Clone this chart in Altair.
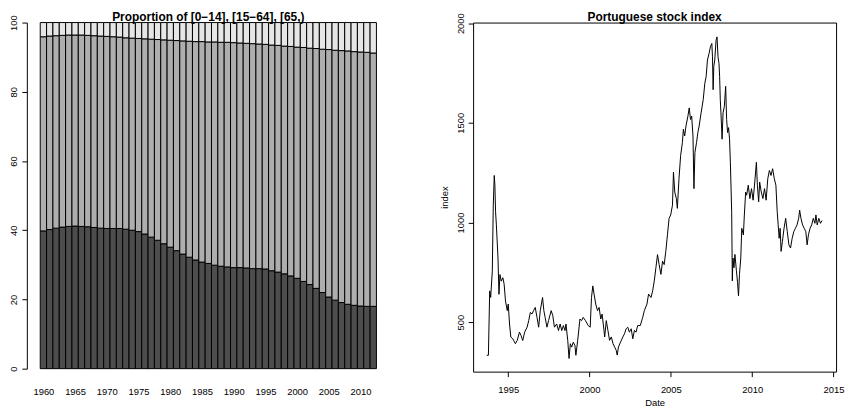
import altair as alt
import pandas as pd

# ---------------- data: left panel (shares in %) ----------------
years = list(range(1960, 2013))
share_0_14 = [39.8, 40.2, 40.6, 40.9, 41.1, 41.2, 41.1, 41.0, 40.8, 40.6,
              40.5, 40.5, 40.5, 40.3, 40.0, 39.6, 38.9, 38.0, 37.1, 36.1,
              35.1, 34.1, 33.1, 32.2, 31.4, 30.8, 30.4, 29.9, 29.6, 29.4,
              29.2, 29.2, 29.1, 28.9, 28.9, 28.8, 28.3, 27.9, 27.4, 26.8,
              26.1, 25.2, 24.3, 23.2, 22.0, 20.7, 19.8, 19.1, 18.6, 18.3,
              18.1, 18.0, 18.0]
share_65 = [4.1, 3.9, 3.8, 3.7, 3.6, 3.6, 3.6, 3.7, 3.8, 3.9,
            4.0, 4.1, 4.2, 4.4, 4.5, 4.6, 4.7, 4.8, 4.9, 5.0,
            5.1, 5.2, 5.3, 5.4, 5.5, 5.5, 5.6, 5.6, 5.7, 5.7,
            5.8, 5.9, 6.0, 6.1, 6.2, 6.3, 6.5, 6.6, 6.8, 6.9,
            7.1, 7.2, 7.4, 7.5, 7.7, 7.8, 8.0, 8.1, 8.2, 8.4,
            8.5, 8.6, 8.8]
groups = ["[0-14]", "[15-64]", "[65,)"]
group_colors = ["#4D4D4D", "#AEAEAE", "#E6E6E6"]
year_labels = [1960, 1965, 1970, 1975, 1980, 1985, 1990, 1995, 2000, 2005, 2010]
share_ticks = [0, 20, 40, 60, 80, 100]

# ---------------- data: right panel (index, decimal years) ----------------
stock_t = [1993.68, 1993.78, 1993.86, 1993.92, 1994.02, 1994.08, 1994.14, 1994.18, 1994.22, 1994.27,
           1994.37, 1994.43, 1994.49, 1994.57, 1994.67, 1994.75, 1994.83, 1994.94, 1995.00, 1995.08,
           1995.16, 1995.28, 1995.44, 1995.55, 1995.69, 1995.79, 1995.89, 1996.01, 1996.16, 1996.26,
           1996.36, 1996.46, 1996.56, 1996.66, 1996.77, 1996.87, 1996.97, 1997.11, 1997.19, 1997.27,
           1997.38, 1997.48, 1997.64, 1997.74, 1997.84, 1997.98, 1998.09, 1998.19, 1998.29, 1998.39,
           1998.49, 1998.55, 1998.66, 1998.74, 1998.82, 1998.90, 1999.00, 1999.10, 1999.16, 1999.27,
           1999.41, 1999.51, 1999.61, 1999.75, 1999.92, 2000.04, 2000.12, 2000.20, 2000.28, 2000.38,
           2000.49, 2000.59, 2000.69, 2000.77, 2000.89, 2000.93, 2001.03, 2001.13, 2001.23, 2001.34,
           2001.44, 2001.54, 2001.64, 2001.70, 2001.78, 2001.91, 2002.05, 2002.15, 2002.25, 2002.35,
           2002.45, 2002.56, 2002.66, 2002.76, 2002.86, 2002.96, 2003.12, 2003.27, 2003.37, 2003.53,
           2003.63, 2003.78, 2003.88, 2003.98, 2004.08, 2004.18, 2004.28, 2004.39, 2004.49, 2004.59,
           2004.69, 2004.79, 2004.89, 2004.99, 2005.10, 2005.16, 2005.24, 2005.34, 2005.40, 2005.50,
           2005.60, 2005.71, 2005.77, 2005.85, 2005.93, 2006.05, 2006.13, 2006.21, 2006.28, 2006.36,
           2006.42, 2006.48, 2006.58, 2006.66, 2006.74, 2006.86, 2006.99, 2007.09, 2007.17, 2007.25,
           2007.35, 2007.43, 2007.52, 2007.56, 2007.60, 2007.64, 2007.70, 2007.78, 2007.84, 2007.90,
           2007.96, 2008.00, 2008.04, 2008.08, 2008.15, 2008.21, 2008.29, 2008.37, 2008.43, 2008.49,
           2008.55, 2008.61, 2008.66, 2008.74, 2008.78, 2008.82, 2008.88, 2008.94, 2009.03, 2009.10,
           2009.16, 2009.22, 2009.30, 2009.36, 2009.46, 2009.52, 2009.60, 2009.66, 2009.76, 2009.86,
           2009.96, 2010.06, 2010.16, 2010.26, 2010.32, 2010.40, 2010.46, 2010.56, 2010.66, 2010.76,
           2010.86, 2010.96, 2011.06, 2011.16, 2011.26, 2011.36, 2011.46, 2011.54, 2011.60, 2011.66,
           2011.72, 2011.78, 2011.86, 2011.96, 2012.06, 2012.16, 2012.26, 2012.36, 2012.46, 2012.56,
           2012.66, 2012.76, 2012.86, 2012.92, 2013.00, 2013.10, 2013.20, 2013.30, 2013.38, 2013.46,
           2013.56, 2013.66, 2013.76, 2013.86, 2013.92, 2014.00, 2014.10, 2014.20, 2014.30]
stock_v = [334, 334, 657, 624, 756, 1087, 1236, 1186, 1054, 988,
           822, 640, 739, 706, 723, 690, 607, 558, 591, 491,
           425, 417, 392, 408, 450, 433, 408, 450, 475, 508,
           549, 541, 558, 574, 524, 475, 558, 624, 558, 524,
           475, 508, 558, 533, 475, 491, 458, 491, 458, 483,
           458, 491, 408, 318, 392, 375, 400, 384, 334, 408,
           516, 508, 524, 508, 483, 475, 624, 682, 640, 591,
           558, 574, 516, 541, 458, 426, 508, 459, 409, 426,
           393, 376, 359, 335, 376, 401, 426, 442, 467, 475,
           450, 467, 417, 459, 450, 483, 483, 525, 558, 591,
           641, 624, 657, 707, 773, 839, 789, 740, 806, 789,
           856, 938, 1021, 1038, 1087, 1253, 1153, 1120, 1071, 1220,
           1335, 1401, 1468, 1434, 1484, 1534, 1575, 1517, 1534, 1434,
           1170, 1352, 1401, 1451, 1484, 1550, 1616, 1699, 1732, 1815,
           1848, 1881, 1898, 1831, 1666, 1782, 1815, 1914, 1931, 1831,
           1798, 1732, 1616, 1550, 1418, 1550, 1583, 1683, 1517, 1451,
           1476, 1418, 1302, 1054, 707, 822, 773, 840, 760, 700,
           632, 740, 822, 971, 938, 1038, 1153, 1137, 1187, 1120,
           1170, 1112, 1203, 1302, 1187, 1104, 1203, 1153, 1120, 1170,
           1112, 1220, 1261, 1236, 1270, 1220, 1187, 1054, 988, 921,
           971, 855, 905, 971, 1021, 954, 888, 872, 921, 954,
           971, 988, 1021, 1062, 1021, 988, 971, 954, 888, 938,
           971, 988, 1021, 996, 1038, 988, 1021, 996, 1010]
date_ticks = [1995, 2000, 2005, 2010, 2015]
index_ticks = [500, 1000, 1500, 2000]

# ---------------- tables ----------------
rows = []
for yr, a, c in zip(years, share_0_14, share_65):
    b = 100 - a - c
    rows.append({"year": yr, "group": groups[0], "lo": 0.0, "hi": a})
    rows.append({"year": yr, "group": groups[1], "lo": a, "hi": a + b})
    rows.append({"year": yr, "group": groups[2], "lo": a + b, "hi": 100.0})
bars_df = pd.DataFrame(rows)
stock_df = pd.DataFrame({"t": stock_t, "v": stock_v})

FONT = "Liberation Sans"
TITLE_SIZE = 12
LABEL_SIZE = 9.5

bars = (
    alt.Chart(bars_df)
    .transform_calculate(x0="datum.year - 0.5", x1="datum.year + 0.5")
    .mark_rect(stroke="black", strokeWidth=1)
    .encode(
        x=alt.X("x0:Q",
                scale=alt.Scale(domain=[1957.39, 2014.61], nice=False, zero=False),
                axis=alt.Axis(values=year_labels, format="d", title=None, domain=False,
                              ticks=False, tickSize=0, labelPadding=18, grid=False,
                              labelFlush=False)),
        x2="x1:Q",
        y=alt.Y("lo:Q",
                scale=alt.Scale(domain=[0, 100], nice=False, zero=False),
                axis=alt.Axis(values=share_ticks, format="d", title=None, grid=False,
                              labelAngle=270, labelAlign="center", labelBaseline="bottom",
                              tickSize=5, labelPadding=3, labelFlush=False)),
        y2="hi:Q",
        color=alt.Color("group:N", scale=alt.Scale(domain=groups, range=group_colors),
                        legend=None),
    )
    .properties(
        width=366, height=349,
        title=alt.TitleParams("Proportion of [0\u221214], [15\u221264], [65,)",
                              font=FONT, fontSize=TITLE_SIZE, fontWeight="bold",
                              color="black", offset=-9, frame="group"),
        view=alt.ViewBackground(stroke="transparent"),
    )
)

stock = (
    alt.Chart(stock_df)
    .mark_line(color="black", strokeWidth=1)
    .encode(
        x=alt.X("t:Q",
                scale=alt.Scale(domain=[1992.84, 2015.16], nice=False, zero=False),
                axis=alt.Axis(values=date_ticks, format="d", title="Date", domain=False,
                              tickSize=5, labelPadding=8, grid=False, titlePadding=4,
                              labelFlush=False)),
        y=alt.Y("v:Q",
                scale=alt.Scale(domain=[252, 2003], nice=False, zero=False),
                axis=alt.Axis(values=index_ticks, format="d", title="index", domain=False,
                              grid=False, labelAngle=270, labelAlign="center",
                              labelBaseline="bottom", tickSize=5, labelPadding=3,
                              titlePadding=6, labelFlush=False)),
    )
    .properties(
        width=366, height=352,
        title=alt.TitleParams("Portuguese stock index", font=FONT, fontSize=TITLE_SIZE,
                              fontWeight="bold", color="black", offset=-11.5,
                              frame="group"),
        view=alt.ViewBackground(stroke="black", strokeWidth=1),
    )
)

chart = (
    alt.hconcat(bars, stock, spacing=48)
    .properties(padding=0, background="white")
    .configure_axis(
        labelFont=FONT, labelFontSize=LABEL_SIZE, labelColor="black",
        titleFont=FONT, titleFontSize=LABEL_SIZE, titleFontWeight="normal",
        titleColor="black", tickColor="black", domainColor="black",
    )
)

chart.save("out.html", embed_options={"renderer": "svg", "actions": False})
